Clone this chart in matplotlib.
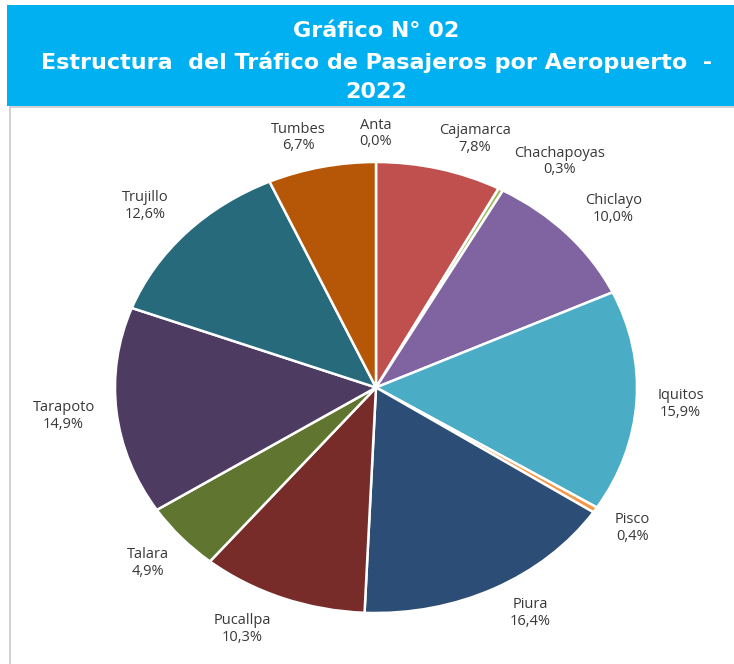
import matplotlib
matplotlib.use("Agg")
import matplotlib.pyplot as plt
from matplotlib.patches import Rectangle

airports = ["Anta", "Cajamarca", "Chachapoyas", "Chiclayo", "Iquitos", "Pisco",
            "Piura", "Pucallpa", "Talara", "Tarapoto", "Trujillo", "Tumbes"]
shares = [0.0, 7.8, 0.3, 10.0, 15.9, 0.4, 16.4, 10.3, 4.9, 14.9, 12.6, 6.7]
colors = ["#4F81BD", "#C0504D", "#9BBB59", "#8064A2", "#4BACC6", "#F79646",
          "#2C4D75", "#772C2A", "#5F7530", "#4D3B62", "#276A7C", "#B65708"]
title_lines = ["Gráfico N° 02", "Estructura  del Tráfico de Pasajeros por Aeropuerto  -", "2022"]

# label centres in pie-radius units (x, y)
label_pos = [(0.0, 1.126), (0.379, 1.102), (0.705, 1.002), (0.910, 0.792),
             (1.167, -0.073), (0.983, -0.623), (0.590, -1.000), (-0.511, -1.071),
             (-0.874, -0.778), (-1.197, -0.126), (-0.883, 0.805), (-0.297, 1.109)]

W, H = 734, 664
fig = plt.figure(figsize=(W / 100, H / 100), dpi=100)

# title banner and plot-area border
fig.patches.append(Rectangle((7 / W, 1 - 106 / H), 1, 101 / H, transform=fig.transFigure,
                             facecolor="#00B0F0", edgecolor="none", zorder=0))
fig.patches.append(Rectangle((10 / W, -0.01), 1, 1 - 107 / H + 0.01, transform=fig.transFigure,
                             facecolor="none", edgecolor="#C8C8C8", linewidth=1.2, zorder=0))

for line, yp in zip(title_lines, [29, 60, 90]):
    fig.text(376.5 / W, 1 - yp / H, line, ha="center", va="center_baseline", color="white",
             fontsize=16, fontweight="bold", family=["DejaVu Sans"])

ax = fig.add_axes([115 / W, 1 - 613 / H, 522 / W, 451 / H])
ax.pie(shares, colors=colors, startangle=90, counterclock=False,
       wedgeprops=dict(edgecolor="white", linewidth=1.8))
ax.set_aspect("auto")
ax.set_xlim(-1, 1)
ax.set_ylim(-1, 1)
ax.axis("off")

for name, val, (nx, ny) in zip(airports, shares, label_pos):
    ax.text(nx, ny, f"{name}\n{val:.1f}%".replace(".", ","), ha="center", va="center",
            color="#383838", fontsize=10.5, family=["Open Sans", "DejaVu Sans"],
            linespacing=1.15, clip_on=False)

fig.savefig("out.png", dpi=100)
